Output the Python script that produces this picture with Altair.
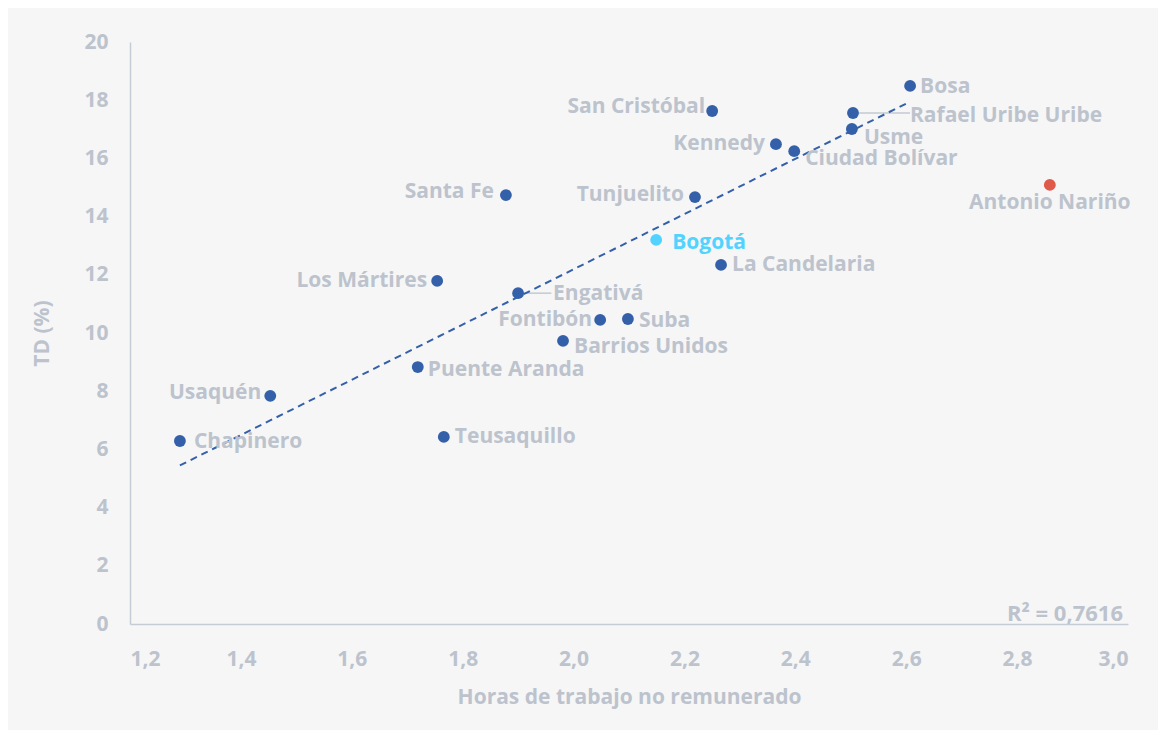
import altair as alt
import pandas as pd

# Data
localidades = ["Bosa", "San Cristóbal", "Rafael Uribe Uribe", "Usme", "Kennedy",
               "Ciudad Bolívar", "Santa Fe", "Tunjuelito", "Antonio Nariño", "Bogotá",
               "La Candelaria", "Los Mártires", "Engativá", "Fontibón", "Suba",
               "Barrios Unidos", "Puente Aranda", "Usaquén", "Chapinero", "Teusaquillo"]
horas = [2.607, 2.250, 2.504, 2.502, 2.365, 2.398, 1.878, 2.219, 2.859, 2.149,
         2.266, 1.754, 1.900, 2.048, 2.098, 1.981, 1.719, 1.453, 1.290, 1.766]
td = [18.49, 17.63, 17.56, 17.01, 16.49, 16.25, 14.74, 14.67, 15.09, 13.20,
      12.34, 11.79, 11.37, 10.45, 10.48, 9.73, 8.83, 7.84, 6.29, 6.43]
grupo = ["loc"] * 8 + ["atipico", "total"] + ["loc"] * 10

trend_x = [1.29, 2.607]
trend_y = [5.45, 17.95]

leader_names = ["Rafael Uribe Uribe", "Engativá"]
leader_x2 = [2.607, 1.960]

r2_text = "R² = 0,7616"

# Styling (label placement relative to each point)
label_style = {
    "Bosa": ("left", 10, 1),
    "San Cristóbal": ("right", -7, -4),
    "Rafael Uribe Uribe": ("left", 57, 3),
    "Usme": ("left", 12, 9),
    "Kennedy": ("right", -11, 0),
    "Ciudad Bolívar": ("left", 11, 8),
    "Santa Fe": ("right", -12, -3),
    "Tunjuelito": ("right", -11, -2),
    "Antonio Nariño": ("center", 0, 18),
    "Bogotá": ("left", 16, 3),
    "La Candelaria": ("left", 11, 0),
    "Los Mártires": ("right", -10, 0),
    "Engativá": ("left", 35, 1),
    "Fontibón": ("right", -8, 0),
    "Suba": ("left", 11, 2),
    "Barrios Unidos": ("left", 11, 6),
    "Puente Aranda": ("left", 10, 3),
    "Usaquén": ("right", -9, -3),
    "Chapinero": ("left", 14, 1),
    "Teusaquillo": ("left", 11, 0),
}

GRAY = "#bcc3cd"
AXIS_GRAY = "#c5ccd5"
FONT = "Open Sans"
FS = 21

df = pd.DataFrame({"localidad": localidades, "horas": horas, "td": td, "grupo": grupo})
trend = pd.DataFrame({"x": trend_x, "y": trend_y})
leaders = df[df["localidad"].isin(leader_names)].copy()
leaders["x2"] = leader_x2

xscale = alt.Scale(domain=[1.2, 3.0], nice=False, zero=False)
yscale = alt.Scale(domain=[0, 20], nice=False)

base = alt.Chart(df)

points = base.mark_circle(size=140, opacity=1).encode(
    x=alt.X("horas:Q", scale=xscale,
            axis=alt.Axis(title="Horas de trabajo no remunerado", values=[1.2, 1.4, 1.6, 1.8, 2.0, 2.2, 2.4, 2.6, 2.8, 3.0],
                          labelExpr="replace(format(datum.value, '.1f'), '.', ',')",
                          grid=False, ticks=False, domainColor=AXIS_GRAY, domainWidth=1.5,
                          labelColor=GRAY, labelFont=FONT, labelFontSize=FS, labelFontWeight="bold",
                          labelPadding=24, titleColor=GRAY, titleFont=FONT, titleFontSize=FS,
                          titleFontWeight="bold", titlePadding=17)),
    y=alt.Y("td:Q", scale=yscale,
            axis=alt.Axis(title="TD (%)", values=list(range(0, 21, 2)), grid=False, ticks=False,
                          domainColor=AXIS_GRAY, domainWidth=1.5, labelColor=GRAY, labelFont=FONT,
                          labelFontSize=FS, labelFontWeight="bold", labelPadding=22,
                          titleColor=GRAY, titleFont=FONT, titleFontSize=FS, titleFontWeight="bold",
                          titlePadding=31)),
    color=alt.Color("grupo:N", scale=alt.Scale(domain=["loc", "atipico", "total"],
                                               range=["#3460a9", "#e05a4b", "#52d3ff"]), legend=None),
)

trend_line = alt.Chart(trend).mark_line(color="#3460a9", strokeDash=[7, 5], strokeWidth=2).encode(
    x=alt.X("x:Q", scale=xscale), y=alt.Y("y:Q", scale=yscale)
)

leader_rules = alt.Chart(leaders).mark_rule(color="#aab4c2", strokeWidth=1).encode(
    x=alt.X("horas:Q", scale=xscale), x2="x2:Q", y=alt.Y("td:Q", scale=yscale)
)

label_layers = []
for name in localidades:
    align, dx, dy = label_style[name]
    col = "#52d3ff" if name == "Bogotá" else GRAY
    label_layers.append(
        base.transform_filter(alt.datum.localidad == name).mark_text(
            align=align, baseline="middle", dx=dx, dy=dy, font=FONT, fontSize=FS,
            fontWeight="bold", color=col
        ).encode(x=alt.X("horas:Q", scale=xscale), y=alt.Y("td:Q", scale=yscale), text="localidad:N")
    )

r2 = alt.Chart(pd.DataFrame({"t": [r2_text]})).mark_text(
    align="right", baseline="alphabetic", font=FONT, fontSize=22, fontWeight="bold", color=GRAY
).encode(x=alt.value(993), y=alt.value(579), text="t:N")

chart = alt.layer(leader_rules, trend_line, points, *label_layers, r2).properties(
    width=998, height=582,
    autosize=alt.AutoSizeParams(type="none"),
    padding={"left": 122, "top": 34, "right": 30, "bottom": 106},
    background="#f6f6f6",
).configure_view(stroke=None)

chart.save("out.html", embed_options={"renderer": "svg", "actions": False})
